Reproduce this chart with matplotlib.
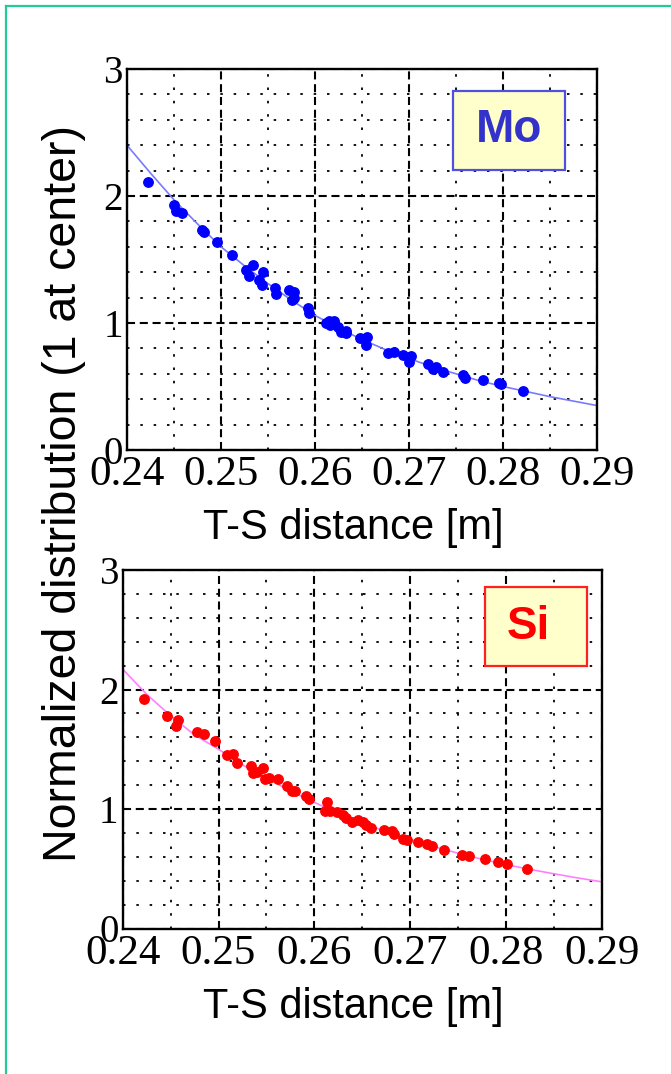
import matplotlib
matplotlib.use("Agg")
import matplotlib.pyplot as plt
from matplotlib.patches import Rectangle
from matplotlib.lines import Line2D
from matplotlib.ticker import MultipleLocator

plt.rcParams['lines.scale_dashes'] = False

# ---------------- data ----------------
mo_x = [0.24223, 0.2450, 0.24518, 0.24589, 0.24801, 0.2482, 0.24954, 0.25121, 0.25262, 0.25294,
        0.2534, 0.25404, 0.25436, 0.25447, 0.25571, 0.25589, 0.25723, 0.25773, 0.25773, 0.25752,
        0.25926, 0.25933, 0.26121, 0.26149, 0.26163, 0.26199, 0.26245, 0.2628, 0.26326, 0.26333,
        0.26475, 0.26539, 0.26553, 0.26777, 0.26837, 0.26936, 0.2700, 0.27025, 0.27202, 0.27255,
        0.27291, 0.27362, 0.27574, 0.27592, 0.27787, 0.27957, 0.27982, 0.28213]
mo_y = [2.112, 1.931, 1.884, 1.870, 1.734, 1.720, 1.634, 1.539, 1.419, 1.371,
        1.458, 1.340, 1.300, 1.398, 1.274, 1.229, 1.261, 1.243, 1.195, 1.182,
        1.116, 1.082, 0.998, 1.019, 0.985, 1.019, 0.972, 0.933, 0.919, 0.940,
        0.880, 0.827, 0.888, 0.767, 0.775, 0.749, 0.696, 0.741, 0.678, 0.636,
        0.651, 0.617, 0.591, 0.565, 0.552, 0.525, 0.517, 0.468]

si_x = [0.24223, 0.24459, 0.24557, 0.24581, 0.24772, 0.24852, 0.24964, 0.25093, 0.25155, 0.25197,
        0.2534, 0.25364, 0.25406, 0.25461, 0.25486, 0.25531, 0.25625, 0.25719, 0.25764, 0.25799,
        0.25914, 0.25949, 0.26129, 0.26115, 0.26164, 0.26234, 0.26303, 0.26331, 0.2639, 0.2646,
        0.26512, 0.26537, 0.26589, 0.26728, 0.26808, 0.26833, 0.2693, 0.26965, 0.27087, 0.27181,
        0.27226, 0.27354, 0.27539, 0.27619, 0.27783, 0.27922, 0.28009, 0.28218]
si_y = [1.920, 1.780, 1.697, 1.744, 1.641, 1.627, 1.568, 1.451, 1.460, 1.381,
        1.362, 1.298, 1.312, 1.340, 1.250, 1.261, 1.247, 1.194, 1.153, 1.150,
        1.111, 1.080, 1.055, 0.982, 0.982, 0.971, 0.949, 0.921, 0.893, 0.907,
        0.893, 0.865, 0.843, 0.823, 0.815, 0.787, 0.748, 0.740, 0.720, 0.703,
        0.692, 0.656, 0.614, 0.608, 0.578, 0.553, 0.541, 0.502]

fit_x = [0.24, 0.2425, 0.245, 0.2475, 0.25, 0.2525, 0.255, 0.2575, 0.26, 0.2625, 0.265,
         0.2675, 0.27, 0.2725, 0.275, 0.2775, 0.28, 0.2825, 0.285, 0.2875, 0.29]
mo_fit = [2.40, 2.18, 1.97, 1.78, 1.60, 1.45, 1.31, 1.18, 1.06, 0.96, 0.87,
          0.79, 0.72, 0.655, 0.60, 0.545, 0.50, 0.46, 0.42, 0.385, 0.35]
si_fit = [2.17, 1.96, 1.78, 1.62, 1.50, 1.37, 1.26, 1.15, 1.055, 0.965, 0.885,
          0.81, 0.745, 0.685, 0.63, 0.58, 0.535, 0.495, 0.458, 0.423, 0.391]

xticks = [0.24, 0.25, 0.26, 0.27, 0.28, 0.29]
xticklabels = ['0.24', '0.25', '0.26', '0.27', '0.28', '0.29']
yticks = [0, 1, 2, 3]
yticklabels = ['0', '1', '2', '3']

xlabel = 'T-S distance [m]'
ylabel = 'Normalized distribution (1 at center)'

# ---------------- figure ----------------
W, H = 671, 1074
fig = plt.figure(figsize=(W / 100, H / 100), dpi=100)
fig.patch.set_facecolor('white')

def fx(px):
    return px / W

def fy(py):
    return 1 - py / H

serif = 'Liberation Serif'
sans = 'Liberation Sans'

panels = [
    dict(rect=[fx(127), fy(450), fx(597) - fx(127), fy(69) - fy(450)],
         x=mo_x, y=mo_y, fit=mo_fit, pc='#0000ff', lc='#7a7aff',
         label='Mo', tc='#3333cc', ec='#5050e0',
         box=(0.6936, 0.735, 0.2383, 0.207), txy=(0.813, 0.84), xlab_base=539.5),
    dict(rect=[fx(122.7), fy(928.5), fx(601.7) - fx(122.7), fy(570) - fy(928.5)],
         x=si_x, y=si_y, fit=si_fit, pc='#ff0000', lc='#ff80ff',
         label='Si', tc='#ff0000', ec='#ff2020',
         box=(0.7564, 0.732, 0.2129, 0.2206), txy=(0.846, 0.842), xlab_base=1017.7),
]

for p in panels:
    ax = fig.add_axes(p['rect'])
    ax.set_xlim(0.24, 0.29)
    ax.set_ylim(0, 3)
    ax.xaxis.set_major_locator(MultipleLocator(0.01))
    ax.xaxis.set_minor_locator(MultipleLocator(0.005))
    ax.yaxis.set_major_locator(MultipleLocator(1))
    ax.yaxis.set_minor_locator(MultipleLocator(0.2))
    ax.set_xticks(xticks)
    ax.set_xticklabels(xticklabels, fontfamily=serif, fontsize=31)
    ax.set_yticks(yticks)
    ax.set_yticklabels(yticklabels, fontfamily=serif, fontsize=28)
    ax.tick_params(axis='both', which='both', length=0)
    ax.tick_params(axis='x', pad=4)
    ax.tick_params(axis='y', pad=3)
    ax.grid(True, which='major', color='black', linewidth=1.5,
            linestyle=(0, (5.8, 3.4)), zorder=0)
    ax.grid(True, which='minor', color='black', linewidth=1.3,
            linestyle=(0, (1.8, 7.8)), zorder=0)
    ax.set_axisbelow(True)
    for s in ax.spines.values():
        s.set_linewidth(1.7)
        s.set_color('black')
    ax.plot(fit_x, p['fit'], color=p['lc'], linewidth=1.2, zorder=2)
    ax.plot(p['x'], p['y'], linestyle='none', marker='o', markersize=6.8,
            markerfacecolor=p['pc'], markeredgecolor=p['pc'], zorder=3)
    bx, by, bw, bh = p['box']
    ax.add_patch(Rectangle((bx, by), bw, bh, transform=ax.transAxes,
                           facecolor='#ffffcc', edgecolor=p['ec'], linewidth=1.6, zorder=4))
    ax.text(p['txy'][0], p['txy'][1], p['label'], transform=ax.transAxes,
            ha='center', va='center', fontfamily=sans, fontweight='bold',
            fontsize=33, color=p['tc'], zorder=5)
    fig.text(fx(353), fy(p['xlab_base']), xlabel, ha='center', va='baseline',
             fontfamily=sans, fontsize=30, color='black')

fig.text(fx(64), fy(494), ylabel, rotation=90, ha='center', va='center',
         fontfamily=sans, fontsize=33.5, color='black')

# outer frame (teal) on top and left
frame_c = '#1fcc98'
fig.add_artist(Line2D([fx(6), 1.0], [fy(5.5), fy(5.5)], transform=fig.transFigure,
                      color=frame_c, linewidth=1.6))
fig.add_artist(Line2D([fx(6), fx(6)], [fy(5.5), 0.0], transform=fig.transFigure,
                      color=frame_c, linewidth=1.6))

fig.savefig('out.png', dpi=100, facecolor='white')
